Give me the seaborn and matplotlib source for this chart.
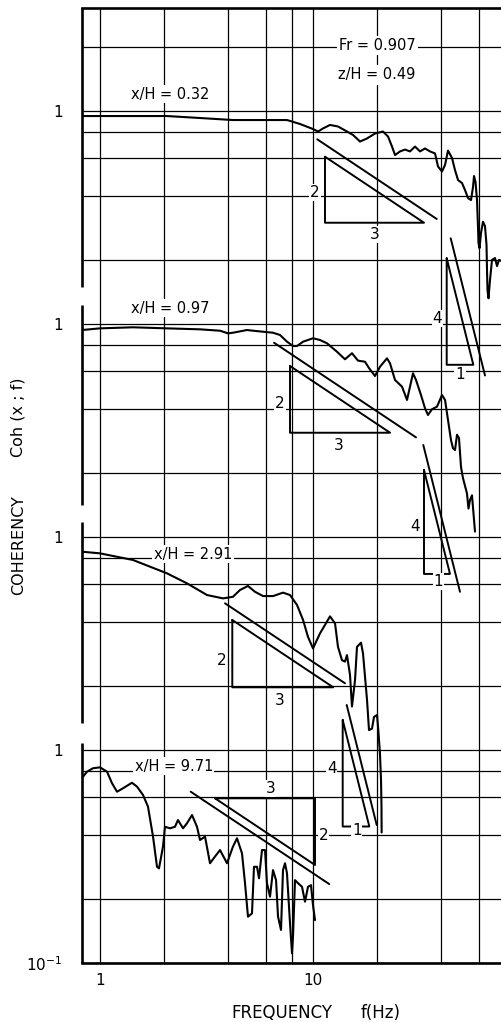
import matplotlib
matplotlib.use("Agg")
import matplotlib.pyplot as plt
from matplotlib.ticker import NullLocator
import numpy as np
import pandas as pd
import seaborn as sns

sns.set_style("white")
plt.rcParams['font.family'] = ['DejaVu Sans', 'Noto Sans']
plt.rcParams['text.color'] = 'black'
plt.rcParams['axes.labelcolor'] = 'black'
plt.rcParams['xtick.color'] = 'black'
plt.rcParams['ytick.color'] = 'black'

# ------------------------------------------------------------------ data
curve_labels = ["x/H = 0.32", "x/H = 0.97", "x/H = 2.91", "x/H = 9.71"]
curve_offsets = [1000, 100, 10, 1]          # vertical shift of each curve (decades)

freq_032 = [0.823, 1.0, 2.06, 2.95, 4.21, 5.64, 7.55, 8.69, 10.0, 10.56, 11.14, 12.02,
            13.10, 14.44, 15.41, 16.62, 17.93, 19.55, 21.31, 22.50, 23.49, 24.27, 25.62,
            27.04, 28.54, 30.13, 31.79, 33.56, 35.43, 37.40, 38.63, 40.33, 41.67, 43.04,
            44.95, 46.42, 47.96, 50.07, 51.70, 53.42, 55.19, 56.40, 57.01, 57.94, 58.88,
            59.52, 59.84, 60.50, 61.49, 62.84, 64.19, 65.26, 65.61, 65.96, 66.68, 67.76,
            69.26, 71.52, 73.11, 74.7, 77.15]
coh_032 = [0.947, 0.947, 0.947, 0.927, 0.907, 0.907, 0.907, 0.869, 0.823, 0.801, 0.828,
           0.860, 0.846, 0.801, 0.772, 0.719, 0.743, 0.784, 0.801, 0.759, 0.681, 0.621,
           0.646, 0.659, 0.646, 0.681, 0.646, 0.667, 0.646, 0.632, 0.549, 0.520, 0.558,
           0.652, 0.601, 0.528, 0.474, 0.459, 0.426, 0.390, 0.382, 0.440, 0.495, 0.464,
           0.382, 0.285, 0.240, 0.227, 0.268, 0.302, 0.288, 0.235, 0.179, 0.144, 0.132,
           0.161, 0.200, 0.204, 0.187, 0.200, 0.197]

freq_097 = [0.823, 1.0, 1.428, 2.064, 2.948, 3.66, 3.99, 4.21, 4.90, 5.23, 6.49, 7.00,
            7.55, 8.06, 8.41, 8.98, 10.0, 10.79, 11.63, 12.96, 14.13, 15.24, 16.27, 17.54,
            18.32, 19.55, 20.63, 22.25, 22.99, 24.27, 26.17, 27.63, 28.54, 29.48, 30.45,
            32.14, 33.56, 34.67, 36.20, 38.21, 40.33, 41.67, 43.04, 44.45, 45.42, 46.42,
            47.44, 48.47, 49.53, 50.60, 52.84, 53.7, 54.58, 55.78, 56.69, 57.61]
coh_097 = [0.937, 0.954, 0.965, 0.954, 0.944, 0.930, 0.904, 0.910, 0.937, 0.930, 0.910,
           0.888, 0.826, 0.788, 0.788, 0.826, 0.857, 0.841, 0.812, 0.741, 0.683, 0.729,
           0.673, 0.665, 0.621, 0.570, 0.630, 0.690, 0.654, 0.546, 0.508, 0.440, 0.508,
           0.587, 0.546, 0.464, 0.402, 0.374, 0.398, 0.409, 0.464, 0.440, 0.354, 0.285,
           0.261, 0.256, 0.302, 0.291, 0.213, 0.189, 0.160, 0.136, 0.149, 0.157, 0.129,
           0.106]

freq_291 = [0.823, 1.0, 1.428, 2.064, 2.56, 3.18, 3.78, 4.21, 4.543, 4.95, 5.342, 5.83,
            6.49, 7.23, 7.80, 8.41, 8.98, 9.47, 10.0, 10.79, 12.02, 12.69, 13.10, 13.68,
            14.13, 14.44, 14.92, 15.24, 15.75, 16.09, 16.80, 17.17, 17.93, 18.32, 18.92,
            19.34, 19.98, 20.26, 20.63, 20.86, 20.97, 21.0]
coh_291 = [0.853, 0.838, 0.780, 0.675, 0.606, 0.534, 0.515, 0.524, 0.564, 0.589, 0.553,
           0.528, 0.528, 0.548, 0.534, 0.480, 0.408, 0.340, 0.300, 0.353, 0.424, 0.393,
           0.305, 0.264, 0.260, 0.279, 0.225, 0.160, 0.213, 0.305, 0.319, 0.284, 0.172,
           0.124, 0.126, 0.143, 0.146, 0.124, 0.096, 0.0723, 0.054, 0.041]

freq_971 = [0.832, 0.869, 0.927, 1.0, 1.079, 1.139, 1.202, 1.282, 1.413, 1.492, 1.592,
            1.680, 1.774, 1.852, 1.892, 1.976, 2.019, 2.131, 2.249, 2.323, 2.453, 2.561,
            2.704, 2.854, 2.948, 3.112, 3.284, 3.467, 3.660, 3.947, 4.21, 4.398, 4.642,
            4.795, 4.952, 5.171, 5.284, 5.459, 5.578, 5.763, 5.952, 6.08, 6.283, 6.49,
            6.706, 6.852, 7.076, 7.23, 7.389, 7.548, 7.798, 7.97, 8.056, 8.232, 8.506,
            8.878, 9.172, 9.474, 9.787, 10.0, 10.22]
coh_971 = [0.749, 0.791, 0.821, 0.829, 0.791, 0.698, 0.637, 0.661, 0.702, 0.673, 0.615,
           0.542, 0.392, 0.283, 0.278, 0.352, 0.436, 0.429, 0.436, 0.469, 0.429, 0.453,
           0.495, 0.436, 0.378, 0.392, 0.294, 0.316, 0.339, 0.294, 0.352, 0.385, 0.327,
           0.237, 0.165, 0.171, 0.283, 0.283, 0.250, 0.339, 0.339, 0.237, 0.205, 0.273,
           0.245, 0.165, 0.143, 0.273, 0.294, 0.264, 0.154, 0.111, 0.133, 0.245, 0.237,
           0.228, 0.194, 0.228, 0.232, 0.187, 0.159]

x_grid = [1, 2, 4, 6, 8, 10, 20, 40, 60]
x_tick_labels = {1: "1", 10: "10"}
y_grid_mantissa = [1, 2, 4, 6, 8]
y_label_values = {0.1: "$10^{-1}$", 1: "1", 10: "1", 100: "1", 1000: "1"}
info_lines = ["Fr = 0.907", "z/H = 0.49"]

freqs = [freq_032, freq_097, freq_291, freq_971]
cohs = [coh_032, coh_097, coh_291, coh_971]

frames = []
for name, f, c, off in zip(curve_labels, freqs, cohs, curve_offsets):
    frames.append(pd.DataFrame({"freq": f, "coh": c,
                                "shown": np.asarray(c) * off, "curve": name}))
df = pd.concat(frames, ignore_index=True)

# ------------------------------------------------------------------ figure
W, H = 502, 1022
fig = plt.figure(figsize=(W / 100, H / 100), dpi=100)
ax = fig.add_axes([82 / W, (H - 963) / H, 420 / W, (963 - 8.3) / H])

sns.lineplot(data=df, x="freq", y="shown", units="curve", estimator=None,
             sort=False, color="black", lw=1.5, ax=ax, legend=False)

ax.set_xscale("log")
ax.set_yscale("log")
ax.set_xlim(10 ** (-18 / 213), 10 ** (402 / 213))
ax.set_ylim(0.1, 10 ** ((750 - 8.3) / 213))

# grid lines via ticks
y_grid = [m * 10.0 ** k for k in range(-1, 4) for m in y_grid_mantissa]
y_grid = [v for v in y_grid if v <= ax.get_ylim()[1]]
ax.set_xticks(x_grid)
ax.set_xticklabels([x_tick_labels.get(v, "") for v in x_grid])
ax.set_yticks(y_grid)
ylabs = []
for v in y_grid:
    lab = ""
    for key, s in y_label_values.items():
        if abs(v - key) < 1e-9 * max(1, key):
            lab = s
    ylabs.append(lab)
ax.set_yticklabels(ylabs)
ax.xaxis.set_minor_locator(NullLocator())
ax.yaxis.set_minor_locator(NullLocator())
ax.tick_params(axis="both", length=0, labelsize=11, colors="black")
ax.tick_params(axis="y", pad=14)
ax.tick_params(axis="x", pad=7)
ax.grid(True, which="major", color="black", lw=0.9)
ax.set_axisbelow(True)
ax.set_xlabel("")
ax.set_ylabel("")

for side in ["top", "bottom"]:
    ax.spines[side].set_linewidth(1.9)
    ax.spines[side].set_color("black")
ax.spines["right"].set_visible(False)
ax.spines["left"].set_visible(False)

# left frame drawn in pieces (gaps just above the lower "1" levels)
xmin = ax.get_xlim()[0]
ytop = ax.get_ylim()[1]
spine_gaps = [(1.08, 1.34), (11.8, 14.1), (123, 149)]
edges = [0.1] + [v for g in spine_gaps for v in g] + [ytop]
for a, b in zip(edges[0::2], edges[1::2]):
    ax.plot([xmin, xmin], [a, b], color="black", lw=1.9, clip_on=False,
            solid_capstyle="butt")

# ------------------------------------------------------------------ slope triangles
lw_ann = 1.4


def pt(lf, ly):
    return 10 ** lf, 10 ** ly


def slope_line(lf0, ly0, lf1, slope):
    x0, y0 = pt(lf0, ly0)
    x1, y1 = pt(lf1, ly0 - slope * (lf1 - lf0))
    ax.plot([x0, x1], [y0, y1], color="black", lw=lw_ann)


def right_triangle(lf0, ly0, w, slope, inverted=False):
    h = slope * w
    if not inverted:
        xs = [lf0, lf0, lf0 + w, lf0]
        ys = [ly0, ly0 - h, ly0 - h, ly0]
    else:
        xs = [lf0, lf0 + w, lf0 + w, lf0]
        ys = [ly0, ly0, ly0 - h, ly0]
    ax.plot([10 ** v for v in xs], [10 ** v for v in ys], color="black", lw=lw_ann)


def lbl(lf, ly, s):
    ax.text(10 ** lf, 10 ** ly, s, ha="center", va="center", fontsize=11,
            bbox=dict(fc="white", ec="none", pad=0.6))


# panel x/H = 0.32
slope_line(1.020, 2.867, 1.581, 2 / 3)
right_triangle(1.0563, 2.7854, 0.465, 2 / 3)
lbl(1.0094, 2.6164, "2"); lbl(1.2878, 2.4211, "3")
slope_line(1.6465, 2.4023, 1.8075, 4)
right_triangle(1.6277, 2.3085, 0.125, 4)
lbl(1.5836, 2.0268, "4"); lbl(1.6901, 1.7606, "1")
# panel x/H = 0.97
slope_line(0.8169, 1.9122, 1.4836, 2 / 3)
right_triangle(0.8920, 1.8028, 0.47, 2 / 3)
lbl(0.8451, 1.6277, "2"); lbl(1.1188, 1.4319, "3")
slope_line(1.5178, 1.4319, 1.6901, 4)
right_triangle(1.5211, 1.3146, 0.122, 4)
lbl(1.4789, 1.0484, "4"); lbl(1.5883, 0.7901, "1")
# panel x/H = 2.91
slope_line(0.5869, 0.6887, 1.1502, 2 / 3)
right_triangle(0.6211, 0.6103, 0.474, 2 / 3)
lbl(0.5714, 0.4225, "2"); lbl(0.8451, 0.2347, "3")
slope_line(1.1582, 0.2113, 1.2991, 4)
right_triangle(1.1394, 0.1408, 0.125, 4)
lbl(1.0878, -0.0892, "4"); lbl(1.2052, -0.3756, "1")
# panel x/H = 9.71
slope_line(0.4258, -0.1958, 1.0765, 2 / 3)
right_triangle(0.5399, -0.2268, 0.4695, 2 / 3, inverted=True)
lbl(0.8014, -0.1798, "3"); lbl(1.0484, -0.3991, "2")

# ------------------------------------------------------------------ curve labels
label_pos = [(2.13, 1.198), (2.13, 1.185), (2.73, 0.832), (2.22, 0.841)]
for name, off, (f, c) in zip(curve_labels, curve_offsets, label_pos):
    ax.text(f, c * off, name, ha="center", va="center", fontsize=10.5,
            bbox=dict(fc="white", ec="none", pad=1.0))

ax.text(20, 2040, info_lines[0], ha="center", va="center", fontsize=10.5,
        bbox=dict(fc="white", ec="none", pad=1.5))
ax.text(20, 1476, info_lines[1], ha="center", va="center", fontsize=10.5,
        bbox=dict(fc="white", ec="none", pad=1.5))

# axis titles
fig.text(282 / W, 1 - 1013 / H, "FREQUENCY", ha="center", va="center", fontsize=12)
fig.text(380.5 / W, 1 - 1013 / H, "f(Hz)", ha="center", va="center", fontsize=12)
fig.text(18.5 / W, 1 - 545 / H, "COHERENCY", ha="center", va="center",
         rotation=90, fontsize=11.5)
fig.text(18.5 / W, 1 - 417.5 / H, "Coh (x ; f)", ha="center", va="center",
         rotation=90, fontsize=11.5)

fig.savefig("out.png", dpi=100)
